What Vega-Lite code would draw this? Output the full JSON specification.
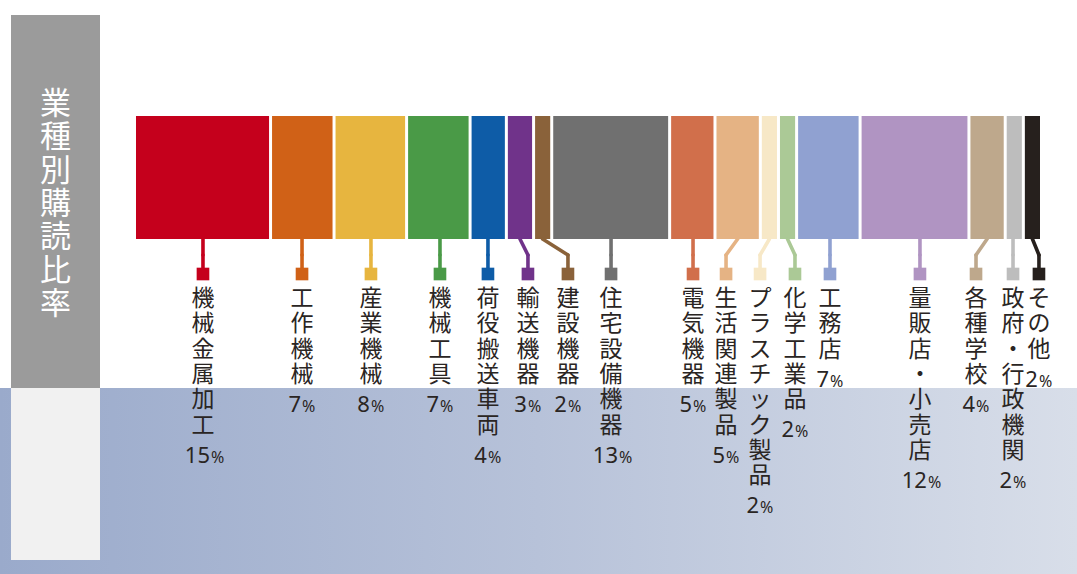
{
  "$schema": "https://vega.github.io/schema/vega-lite/v6.json",
  "width": 1077,
  "height": 574,
  "padding": 0,
  "autosize": {"type": "fit", "contains": "padding"},
  "background": "#ffffff",
  "config": {"view": {"stroke": null}},
  "datasets": {
    "rows": [
      {"cat": "機械金属加工", "pct": 15},
      {"cat": "工作機械", "pct": 7},
      {"cat": "産業機械", "pct": 8},
      {"cat": "機械工具", "pct": 7},
      {"cat": "荷役搬送車両", "pct": 4},
      {"cat": "輸送機器", "pct": 3},
      {"cat": "建設機器", "pct": 2},
      {"cat": "住宅設備機器", "pct": 13},
      {"cat": "電気機器", "pct": 5},
      {"cat": "生活関連製品", "pct": 5},
      {"cat": "プラスチック製品", "pct": 2},
      {"cat": "化学工業品", "pct": 2},
      {"cat": "工務店", "pct": 7},
      {"cat": "量販店・小売店", "pct": 12},
      {"cat": "各種学校", "pct": 4},
      {"cat": "政府・行政機関", "pct": 2},
      {"cat": "その他", "pct": 2}
    ]
  },
  "layer": [
    {
      "data": {"values": [{}]},
      "mark": {"type": "rect", "fill": {"gradient": "linear", "x1": 0, "y1": 0, "x2": 1, "y2": 0, "stops": [{"offset": 0, "color": "#9aaacb"}, {"offset": 0.5, "color": "#b7c2d9"}, {"offset": 1, "color": "#d8dee9"}]}},
      "encoding": {
        "x": {"datum": -14.8291, "type": "quantitative", "scale": {"domain": [-14.8291, 103.914], "nice": false, "zero": false}, "axis": null},
        "x2": {"datum": 103.914},
        "y": {"datum": 388, "type": "quantitative", "scale": {"domain": [0, 574], "reverse": true, "nice": false, "zero": false}, "axis": null},
        "y2": {"datum": 574}
      }
    },
    {
      "data": {"values": [{}]},
      "mark": {"type": "rect", "fill": "#f1f1f1"},
      "encoding": {
        "x": {"datum": -13.6163, "type": "quantitative"},
        "x2": {"datum": -3.8037},
        "y": {"datum": 388, "type": "quantitative"},
        "y2": {"datum": 560}
      }
    },
    {
      "data": {"values": [{}]},
      "mark": {"type": "rect", "fill": "#9b9b9b"},
      "encoding": {
        "x": {"datum": -13.6163, "type": "quantitative"},
        "x2": {"datum": -3.8037},
        "y": {"datum": 15, "type": "quantitative"},
        "y2": {"datum": 388}
      }
    },
    {
      "data": {"values": [{}]},
      "mark": {"type": "text", "text": ["業", "種", "別", "購", "読", "比", "率"], "font": "Noto Sans CJK JP", "fontSize": 31, "lineHeight": 33.3, "fill": "#ffffff", "align": "center", "baseline": "alphabetic"},
      "encoding": {
        "x": {"datum": -8.71, "type": "quantitative"},
        "y": {"datum": 114, "type": "quantitative"}
      }
    },
    {
      "data": {"name": "rows"},
      "transform": [
        {"window": [{"op": "row_number", "as": "idx"}]},
        {"stack": "pct", "groupby": [], "sort": [{"field": "idx"}], "as": ["s", "e"]},
        {"calculate": "[7.55, 18.47, 26.07, 33.68, 38.97, 43.38, 47.79, 52.54, 61.58, 65.22, 68.97, 72.82, 76.68, 86.6, 92.78, 96.86, 99.72][datum.idx - 1]", "as": "lx"},
        {"calculate": "(datum.lx >= datum.s + 0.3 * (datum.e - datum.s) && datum.lx <= datum.e - 0.3 * (datum.e - datum.s)) ? datum.lx : (datum.s + datum.e) / 2", "as": "top"},
        {"calculate": "split(datum.cat, '')", "as": "chars"},
        {"calculate": "datum.lx + (8 * length(toString(datum.pct)) - 9) / 9.07", "as": "px"},
        {"calculate": "310.7 + length(datum.cat) * 25.3", "as": "py"}
      ],
      "encoding": {
        "color": {
          "field": "cat",
          "type": "nominal",
          "legend": null,
          "scale": {
            "domain": ["機械金属加工", "工作機械", "産業機械", "機械工具", "荷役搬送車両", "輸送機器", "建設機器", "住宅設備機器", "電気機器", "生活関連製品", "プラスチック製品", "化学工業品", "工務店", "量販店・小売店", "各種学校", "政府・行政機関", "その他"],
            "range": ["#c5001c", "#d06117", "#e7b53f", "#4a9a47", "#0e5ca7", "#70338a", "#8a623a", "#707070", "#d16f4b", "#e5b384", "#f7e8c7", "#abc996", "#90a1d1", "#b094c2", "#bea88c", "#bdbdbd", "#26201d"]
          }
        }
      },
      "layer": [
        {
          "mark": {"type": "rect", "xOffset": 1.5, "x2Offset": -1.5},
          "encoding": {
            "x": {"field": "s", "type": "quantitative"},
            "x2": {"field": "e"},
            "y": {"datum": 116, "type": "quantitative"},
            "y2": {"datum": 239}
          }
        },
        {
          "mark": {"type": "rule", "strokeWidth": 3.6, "strokeCap": "round"},
          "encoding": {
            "x": {"field": "top", "type": "quantitative"},
            "x2": {"field": "lx"},
            "y": {"datum": 239, "type": "quantitative"},
            "y2": {"datum": 255}
          }
        },
        {
          "mark": {"type": "rule", "strokeWidth": 3.6, "strokeCap": "round"},
          "encoding": {
            "x": {"field": "lx", "type": "quantitative"},
            "y": {"datum": 255, "type": "quantitative"},
            "y2": {"datum": 270}
          }
        },
        {
          "mark": {"type": "point", "shape": "square", "filled": true, "opacity": 1, "size": 160},
          "encoding": {
            "x": {"field": "lx", "type": "quantitative"},
            "y": {"datum": 274, "type": "quantitative"}
          }
        },
        {
          "mark": {"type": "text", "font": "Noto Sans CJK JP", "fontSize": 23, "lineHeight": 25.3, "align": "center", "baseline": "alphabetic"},
          "encoding": {
            "x": {"field": "lx", "type": "quantitative"},
            "y": {"datum": 306, "type": "quantitative"},
            "text": {"field": "chars", "type": "nominal"},
            "color": {"value": "#2a2523"}
          }
        },
        {
          "mark": {"type": "text", "font": "Noto Sans", "fontSize": 22, "align": "right", "baseline": "alphabetic"},
          "encoding": {
            "x": {"field": "px", "type": "quantitative"},
            "y": {"field": "py", "type": "quantitative"},
            "text": {"field": "pct", "type": "nominal"},
            "color": {"value": "#2a2523"}
          }
        },
        {
          "mark": {"type": "text", "font": "Noto Sans", "fontSize": 16, "align": "left", "baseline": "alphabetic", "text": "%", "dx": 1},
          "encoding": {
            "x": {"field": "px", "type": "quantitative"},
            "y": {"field": "py", "type": "quantitative"},
            "color": {"value": "#2a2523"}
          }
        }
      ]
    }
  ]
}
